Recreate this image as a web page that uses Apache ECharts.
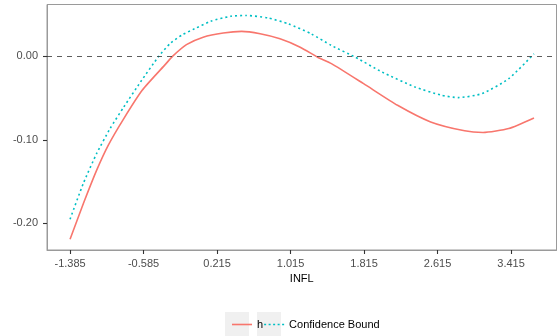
<!DOCTYPE html>
<html>
<head>
<meta charset="utf-8">
<script src="https://cdn.jsdelivr.net/npm/echarts@6/dist/echarts.min.js"></script>
<style>html,body{margin:0;padding:0;background:#fff}#c{width:559px;height:336px}</style>
</head>
<body>
<div id="c"></div>
<script>
var xTicks = [-1.385, -0.585, 0.215, 1.015, 1.815, 2.615, 3.415];
var yTicks = [-0.20, -0.10, 0.00];

var hX = [-1.385, -1.239, -1.094, -0.967, -0.80, -0.60, -0.34, -0.27, -0.118, 0.064, 0.283, 0.483, 0.684, 0.90, 1.12, 1.31, 1.46, 1.81, 2.18, 2.54, 2.91, 3.11, 3.39, 3.665];
var hY = [-0.219, -0.176, -0.136, -0.106, -0.0745, -0.0406, -0.0087, 0.0, 0.014, 0.023, 0.028, 0.0299, 0.027, 0.021, 0.011, -0.001, -0.0087, -0.0327, -0.0586, -0.0785, -0.0892, -0.0912, -0.0864, -0.0737];

var cbX = [-1.385, -1.24, -1.094, -0.949, -0.80, -0.618, -0.42, -0.29, -0.16, -0.03, 0.145, 0.363, 0.53, 0.77, 0.99, 1.24, 1.46, 1.72, 2.01, 2.37, 2.66, 2.84, 3.10, 3.39, 3.665];
var cbY = [-0.195, -0.152, -0.116, -0.0864, -0.0606, -0.0307, 0.0, 0.016, 0.026, 0.033, 0.042, 0.048, 0.049, 0.046, 0.039, 0.027, 0.013, -0.001, -0.0187, -0.0367, -0.0466, -0.0494, -0.0446, -0.0267, 0.003];

function zip(a, b) { return a.map(function (v, i) { return [v, b[i]]; }); }

var chart = echarts.init(document.getElementById('c'));
var font = 'Liberation Sans, Arial, sans-serif';
chart.setOption({
  animation: false,
  textStyle: { fontFamily: font },
  grid: { left: 47, right: 2.5, top: 4.5, bottom: 86, show: true, borderColor: '#9a9a9a', borderWidth: 1, backgroundColor: '#fff' },
  xAxis: {
    type: 'value', min: -1.636, max: 3.91,
    name: 'INFL', nameLocation: 'middle', nameGap: 22,
    nameTextStyle: { color: '#000', fontSize: 11, fontFamily: font },
    axisLine: { show: true, onZero: false, lineStyle: { color: '#9a9a9a', width: 1 } },
    axisTick: { show: true, length: 4, lineStyle: { color: '#333', width: 1.1 }, customValues: xTicks },
    axisLabel: { color: '#4D4D4D', fontSize: 11, margin: 8, fontFamily: font, customValues: xTicks, formatter: function (v) { return v.toFixed(3); } },
    splitLine: { show: false }
  },
  yAxis: {
    type: 'value', min: -0.2319, max: 0.0621,
    axisLine: { show: true, onZero: false, lineStyle: { color: '#9a9a9a', width: 1 } },
    axisTick: { show: true, length: 4, inside: false, lineStyle: { color: '#333', width: 1.1 }, customValues: yTicks },
    axisLabel: { color: '#4D4D4D', fontSize: 11, margin: 9, fontFamily: font, customValues: yTicks, formatter: function (v) { return v.toFixed(2); } },
    splitLine: { show: false }
  },
  legend: {
    left: 227, top: 314, itemWidth: 20, itemHeight: 1.6, itemGap: 1,
    textStyle: { color: '#000', fontSize: 11, fontFamily: font },
    data: [
      { name: 'h', icon: 'rect' },
      { name: 'Confidence Bound', icon: 'path://M0,0h2v1.6h-2zM4.5,0h2v1.6h-2zM9,0h2v1.6h-2zM13.5,0h2v1.6h-2zM18,0h2v1.6h-2z' }
    ]
  },
  graphic: [
    { type: 'rect', left: 225, top: 312, z: 0, shape: { width: 24, height: 24 }, style: { fill: '#F0F0F0' } },
    { type: 'rect', left: 257, top: 312, z: 0, shape: { width: 24, height: 24 }, style: { fill: '#F0F0F0' } }
  ],
  series: [
    {
      name: 'h', type: 'line', data: zip(hX, hY), smooth: 0.2, symbol: 'none',
      lineStyle: { color: '#F8766D', width: 1.6 }, itemStyle: { color: '#F8766D' },
      markLine: {
        silent: true, symbol: 'none', label: { show: false },
        lineStyle: { color: '#333', type: [5, 5], width: 0.8 },
        data: [{ yAxis: 0 }]
      }
    },
    {
      name: 'Confidence Bound', type: 'line', data: zip(cbX, cbY), smooth: 0.2, symbol: 'none',
      lineStyle: { color: '#00BFC4', width: 1.6, type: [2, 3] }, itemStyle: { color: '#00BFC4' }
    }
  ]
});
</script>
</body>
</html>
